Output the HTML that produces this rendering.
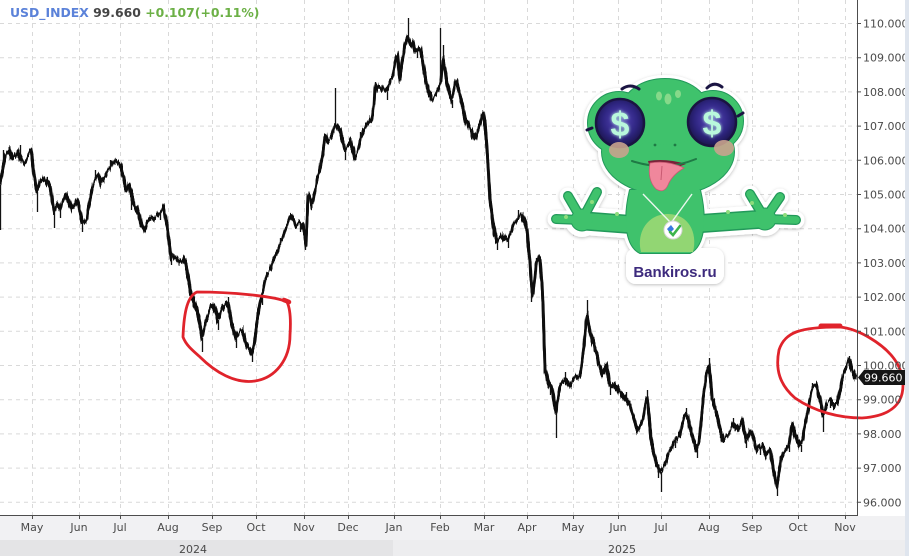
<!DOCTYPE html>
<html>
<head>
<meta charset="utf-8">
<style>
html,body{margin:0;padding:0;background:#fff;}
svg{display:block;}
.ax{font-family:"DejaVu Sans","Liberation Sans",sans-serif;font-size:11px;fill:#4a4a4a;}
</style>
</head>
<body>
<svg width="909" height="556" viewBox="0 0 909 556" xmlns="http://www.w3.org/2000/svg">
<defs>
  <radialGradient id="eyeg" cx="0.5" cy="0.45" r="0.6">
    <stop offset="0" stop-color="#5a48c0"/>
    <stop offset="0.6" stop-color="#2e2580"/>
    <stop offset="1" stop-color="#161140"/>
  </radialGradient>
  <filter id="sh" x="-10%" y="-10%" width="120%" height="120%">
    <feDropShadow dx="0" dy="1" stdDeviation="1.5" flood-color="#000" flood-opacity="0.25"/>
  </filter>
  <filter id="glow" x="-50%" y="-50%" width="200%" height="200%">
    <feGaussianBlur stdDeviation="1.6" result="b"/>
    <feMerge><feMergeNode in="b"/><feMergeNode in="SourceGraphic"/></feMerge>
  </filter>
  <filter id="jag" filterUnits="userSpaceOnUse" x="-5" y="0" width="870" height="520">
    <feTurbulence type="fractalNoise" baseFrequency="0.55 0.06" numOctaves="2" seed="4" result="t"/>
    <feColorMatrix in="t" type="matrix" values="1 0 0 0 0  0 0 0 0 0.5  0 0 0 0 0  0 0 0 0 1" result="m"/>
    <feDisplacementMap in="SourceGraphic" in2="m" scale="11" xChannelSelector="G" yChannelSelector="R"/>
  </filter>
  <polyline id="pl" fill="none" stroke-linejoin="round" points="0,185 3,168 6,155 9,150 13,158 17,152 21,160 25,162 28,155 31,150 34,175 37,192 40,182 43,178 47,182 50,186 54,212 57,205 60,208 63,200 66,195 69,203 72,210 75,204 77,200 80,212 82,222 85,222 87,218 90,200 92,188 95,180 98,175 101,183 103,180 107,172 110,168 113,163 116,160 119,163 121,168 124,180 126,190 129,185 131,194 134,204 137,210 139,215 141,222 143,228 145,230 148,222 150,218 154,218 157,216 160,212 163,208 165,215 167,226 169,242 171,256 174,258 176,258 180,262 183,258 186,265 188,276 190,290 193,300 197,310 200,325 202,338 205,325 208,315 211,305 213,305 216,312 218,320 221,312 223,308 226,303 228,305 230,315 232,325 234,332 236,338 239,332 242,330 245,340 247,345 250,350 252,354 254,345 255,338 257,322 258,315 260,303 262,295 264,285 265,280 268,273 270,270 273,262 275,258 278,250 280,245 283,238 285,230 288,222 290,216 293,220 296,225 300,223 303,228 305,235 306,245 308,195 310,198 312,205 315,192 317,180 320,168 322,158 324,145 325,135 328,140 330,140 333,132 335,125 338,128 340,130 343,142 345,150 348,145 350,140 353,150 355,158 358,150 360,140 363,132 366,125 369,122 372,118 374,105 375,85 378,88 380,88 384,90 387,92 390,82 393,75 395,62 397,55 399,70 400,80 402,62 404,50 406,42 408,36 410,42 413,45 415,52 417,50 420,48 422,58 424,70 426,82 428,90 430,95 432,100 435,95 437,93 439,88 441,80 443,60 445,70 447,85 450,95 452,100 454,88 456,80 458,88 460,95 463,110 465,120 468,125 471,130 473,136 475,140 478,130 480,125 482,116 483,113 485,125 486,135 488,165 489,185 490,200 492,215 493,225 495,235 497,240 500,238 502,235 505,238 508,240 511,232 513,225 516,220 518,218 521,215 523,218 525,222 527,230 528,245 530,262 531,280 533,296 535,275 536,266 538,258 540,262 542,285 543,305 544,340 545,370 547,378 548,382 550,385 552,390 554,402 556,412 558,398 560,385 563,382 565,380 568,384 570,385 573,380 575,375 578,378 580,375 582,362 584,345 586,322 587,315 589,325 590,332 592,340 594,345 596,352 598,360 600,368 602,375 604,370 606,365 608,375 610,385 614,385 618,390 622,395 626,400 630,405 632,412 634,420 636,428 638,430 641,425 643,420 645,405 647,398 649,415 650,430 652,445 654,455 656,462 658,468 661,472 663,468 665,465 668,455 670,450 673,445 675,440 678,438 680,435 682,425 684,416 686,415 688,418 690,428 693,440 695,446 697,450 699,442 700,432 702,412 703,400 705,385 706,376 708,368 709,366 711,385 712,398 714,405 716,410 718,420 720,430 722,436 724,440 726,438 728,435 731,430 733,425 736,428 738,430 740,425 742,420 744,430 746,440 748,436 750,430 752,435 754,440 756,448 757,450 760,447 762,445 764,450 766,455 768,452 770,450 772,462 774,475 776,482 777,486 779,472 781,460 783,455 785,450 787,448 789,445 791,430 792,425 794,432 797,440 799,444 801,445 803,438 804,430 806,420 808,410 810,398 812,390 814,386 816,385 818,392 820,400 822,410 823,415 825,410 826,405 828,402 830,400 832,403 835,405 837,403 838,400 840,390 842,380 844,374 846,368 848,362 849,360 851,366 852,370 854,375 855,378 857,377"/>
</defs>

<!-- backgrounds -->
<rect x="0" y="0" width="909" height="556" fill="#ffffff"/>
<rect x="0" y="516" width="909" height="24" fill="#f1f1f3"/>
<rect x="0" y="540" width="393" height="16" fill="#e4e4e6"/>
<rect x="393" y="540" width="516" height="16" fill="#ededef"/>

<!-- grid -->
<g stroke="#d9d9d9" stroke-width="1" stroke-dasharray="4,4" fill="none">
  <path d="M0 23.5H857M0 57.7H857M0 91.9H857M0 126.1H857M0 160.3H857M0 194.5H857M0 228.7H857M0 262.9H857M0 297.1H857M0 331.3H857M0 365.5H857M0 399.7H857M0 433.9H857M0 468.1H857M0 502.3H857"/>
  <path d="M32.5 0V515M79.5 0V515M120.5 0V515M168.5 0V515M212.5 0V515M256.5 0V515M304.5 0V515M348.5 0V515M394.5 0V515M440.5 0V515M484.5 0V515M527.5 0V515M573.5 0V515M618.5 0V515M661.5 0V515M709.5 0V515M752.5 0V515M798.5 0V515M845.5 0V515"/>
</g>

<!-- price series -->
<g stroke="#111" filter="url(#jag)">
  <use href="#pl" stroke-width="2.8"/>
  <use href="#pl" stroke-width="1.4" transform="translate(0.8,-1.8)"/>
  <use href="#pl" stroke-width="1.4" transform="translate(-0.6,1.8)"/>
</g>
<path stroke="#111" stroke-width="1.3" fill="none" d="M0.5 185V230M3.5 168V150M37.5 192V212M54.5 212V228M82.5 222V232M131.5 194V210M171.5 256V265M202.5 338V352M236.5 338V348M252.5 354V362M300.5 223V232M305.5 235V250M335.5 125V88M375.5 85V82M408.5 36V18M440.5 84V28M443.5 60V45M497.5 240V250M531.5 280V302M543.5 305V325M556.5 412V438M587.5 315V300M661.5 472V492M709.5 366V358M777.5 486V496M823.5 415V432M849.5 360V356
M20.5 158V145M60.5 208V218M95.5 180V170M110.5 168V160M160.5 212V220M186.5 265V275M218.5 320V330M228.5 305V297M262.5 295V305M280.5 245V238M320.5 168V160M345.5 150V160M360.5 140V132M387.5 92V100M417.5 50V58M424.5 70V78M452.5 100V108M471.5 130V138M508.5 240V248M518.5 218V210M536.5 266V258M550.5 385V395M565.5 380V372M594.5 345V352M610.5 385V395M626.5 400V392M647.5 398V390M658.5 468V478M675.5 440V448M686.5 415V408M697.5 450V458M720.5 430V438M733.5 425V418M746.5 440V448M760.5 447V455M789.5 445V452M801.5 445V452M812.5 390V383M830.5 400V408"/>

<!-- mascot -->
<g id="mascot">
  <g filter="url(#sh)">
    <g stroke="#ffffff" fill="#ffffff" stroke-linecap="round" stroke-linejoin="round">
      <path d="M638 225 L585 221" stroke-width="28"/>
      <path d="M582 220 L556 219 M582 220 L568 196 M582 220 L597 192" stroke-width="17"/>
      <circle cx="582" cy="220" r="15" stroke-width="4"/>
      <path d="M694 224 L765 219" stroke-width="28"/>
      <path d="M765 219 L796 220 M765 219 L780 197 M765 219 L750 194" stroke-width="17"/>
      <circle cx="765" cy="219" r="15" stroke-width="4"/>
      <path d="M630 190 C624 215 624 245 640 253 L690 253 C706 245 706 215 700 190 Z" stroke-width="8"/>
      <ellipse cx="668" cy="152" rx="66" ry="43" stroke-width="8"/>
      <ellipse cx="665" cy="112" rx="44" ry="33" stroke-width="8"/>
      <circle cx="619" cy="123" r="31" stroke-width="8"/>
      <circle cx="713" cy="121" r="30" stroke-width="8"/>
      <rect x="628" y="250" width="94" height="32" rx="8" stroke-width="4"/>
    </g>
  </g>
  <g stroke="#22995a" fill="#22995a" stroke-linecap="round" stroke-linejoin="round">
    <path d="M638 225 L585 221" stroke-width="19"/>
    <path d="M582 220 L556 219 M582 220 L568 196 M582 220 L597 192" stroke-width="10"/>
    <circle cx="582" cy="220" r="11"/>
    <path d="M694 224 L765 219" stroke-width="19"/>
    <path d="M765 219 L796 220 M765 219 L780 197 M765 219 L750 194" stroke-width="10"/>
    <circle cx="765" cy="219" r="11"/>
    <path d="M630 190 C624 215 624 245 640 253 L690 253 C706 245 706 215 700 190 Z" stroke-width="2"/>
    <ellipse cx="668" cy="152" rx="66" ry="43" stroke-width="2"/>
    <ellipse cx="665" cy="112" rx="44" ry="33" stroke-width="2"/>
    <circle cx="619" cy="123" r="31" stroke-width="2"/>
    <circle cx="713" cy="121" r="30" stroke-width="2"/>
  </g>
  <g stroke="#3fc26c" fill="#3fc26c" stroke-linecap="round" stroke-linejoin="round">
    <path d="M638 225 L585 221" stroke-width="16"/>
    <path d="M582 220 L556 219 M582 220 L568 196 M582 220 L597 192" stroke-width="7.5"/>
    <circle cx="582" cy="220" r="10"/>
    <path d="M694 224 L765 219" stroke-width="16"/>
    <path d="M765 219 L796 220 M765 219 L780 197 M765 219 L750 194" stroke-width="7.5"/>
    <circle cx="765" cy="219" r="10"/>
  </g>
  <g fill="#3fc26c">
    <path d="M630 190 C624 215 624 245 640 253 L690 253 C706 245 706 215 700 190 Z"/>
    <ellipse cx="668" cy="152" rx="66" ry="43"/>
    <ellipse cx="665" cy="112" rx="44" ry="33"/>
    <circle cx="619" cy="123" r="31"/>
    <circle cx="713" cy="121" r="30"/>
  </g>
  <g fill="#8fdc7c">
    <circle cx="566" cy="217" r="2"/><circle cx="592" cy="202" r="2"/><circle cx="617" cy="214" r="2"/>
    <circle cx="785" cy="215" r="2"/><circle cx="752" cy="203" r="2"/><circle cx="728" cy="212" r="2"/>
  </g>
  <path d="M641 252 C636 232 648 214 668 214 C688 214 698 232 693 252 Z" fill="#92d673"/>
  <ellipse cx="659" cy="96" rx="3" ry="4.5" fill="#86d98a"/>
  <ellipse cx="668" cy="99" rx="3.5" ry="5.5" fill="#86d98a"/>
  <ellipse cx="678" cy="94" rx="3" ry="4" fill="#86d98a"/>
  <circle cx="620" cy="123" r="24" fill="url(#eyeg)" stroke="#1a1442" stroke-width="2.5"/>
  <circle cx="712" cy="122" r="24" fill="url(#eyeg)" stroke="#1a1442" stroke-width="2.5"/>
  <g filter="url(#glow)" font-family="Liberation Sans, sans-serif" font-weight="bold" font-size="34" fill="#b9f8dc" text-anchor="middle">
    <text x="620" y="136">$</text>
    <text x="712" y="135">$</text>
  </g>
  <g stroke="#1a1442" stroke-width="3" fill="none" stroke-linecap="round">
    <path d="M622 89 Q630 83 639 89"/>
    <path d="M707 88 Q714 81 722 87"/>
    <path d="M587 130 L592 128"/>
    <path d="M738 116 L743 113"/>
  </g>
  <ellipse cx="619" cy="150" rx="10" ry="8" fill="#c9a38e" opacity="0.9"/>
  <ellipse cx="724" cy="148" rx="10" ry="8" fill="#c9a38e" opacity="0.9"/>
  <circle cx="655" cy="145" r="1.4" fill="#1f7a45"/>
  <circle cx="675" cy="145" r="1.4" fill="#1f7a45"/>
  <path d="M648 161 Q666 158 686 164 Q670 171 650 168 Z" fill="#7a2038"/>
  <path d="M632 161 Q665 172 696 159" stroke="#1f7a45" stroke-width="2" fill="none" stroke-linecap="round"/>
  <path d="M650 163 Q647 180 656 189 Q664 194 668 185 Q672 175 684 168 Q668 160 650 163 Z" fill="#f0879c" stroke="#c85a72" stroke-width="0.8"/>
  <path d="M662 166 L661 180" stroke="#c85a72" stroke-width="1"/>
  <path d="M643 194 L671 223 L692 194" stroke="#eaf7ee" stroke-width="1.4" fill="none"/>
  <circle cx="673" cy="230" r="9" fill="#ffffff" stroke="#d6d6d6" stroke-width="1"/>
  <path d="M667 229 L671 225 L674 229 L670 233 Z" fill="#3a7be0"/>
  <path d="M670 232 L673 235 L680 226" stroke="#3cb44b" stroke-width="2.6" fill="none" stroke-linecap="round"/>
  <text x="675" y="277" text-anchor="middle" font-family="Liberation Sans, sans-serif" font-weight="bold" font-size="15" fill="#3d2a7d">Bankiros.ru</text>
</g>

<!-- red circles -->
<g stroke="#e0232b" stroke-width="2.8" fill="none" stroke-linecap="round" stroke-linejoin="round">
  <path d="M287 302 C275 296 230 292 197 292 C188 296 184 310 183 337 C186 345 192 350 200 357 C215 372 235 384 255 381 C275 378 290 360 290 335 C291 320 290 308 287 302"/>
  <path d="M284 300 L289 302" stroke-width="4.5"/>
  <path d="M840 327 C800 327 785 332 779 350 C775 370 780 385 795 398 C815 412 840 418 862 418 C890 416 903 405 903 385 C903 365 890 350 870 338 C860 332 850 328 840 327"/>
  <path d="M821 326 L840 326" stroke-width="5"/>
</g>

<!-- axes -->
<g stroke="#4d4d4d" stroke-width="1" fill="none">
  <path d="M857.5 0V515.5M0 515.5H858"/>
  <path d="M857 23.5H861M857 57.7H861M857 91.9H861M857 126.1H861M857 160.3H861M857 194.5H861M857 228.7H861M857 262.9H861M857 297.1H861M857 331.3H861M857 365.5H861M857 399.7H861M857 433.9H861M857 468.1H861M857 502.3H861"/>
  <path d="M32.5 515V519M79.5 515V519M120.5 515V519M168.5 515V519M212.5 515V519M256.5 515V519M304.5 515V519M348.5 515V519M394.5 515V519M440.5 515V519M484.5 515V519M527.5 515V519M573.5 515V519M618.5 515V519M661.5 515V519M709.5 515V519M752.5 515V519M798.5 515V519M845.5 515V519"/>
</g>
<g class="ax">
  <text x="863" y="27.5">110.000</text>
  <text x="863" y="61.7">109.000</text>
  <text x="863" y="95.9">108.000</text>
  <text x="863" y="130.1">107.000</text>
  <text x="863" y="164.3">106.000</text>
  <text x="863" y="198.5">105.000</text>
  <text x="863" y="232.7">104.000</text>
  <text x="863" y="266.9">103.000</text>
  <text x="863" y="301.1">102.000</text>
  <text x="863" y="335.3">101.000</text>
  <text x="863" y="369.5">100.000</text>
  <text x="863" y="403.7">99.000</text>
  <text x="863" y="437.9">98.000</text>
  <text x="863" y="472.1">97.000</text>
  <text x="863" y="506.3">96.000</text>
</g>
<g class="ax" text-anchor="middle">
  <text x="32" y="531">May</text>
  <text x="79" y="531">Jun</text>
  <text x="120" y="531">Jul</text>
  <text x="168" y="531">Aug</text>
  <text x="212" y="531">Sep</text>
  <text x="256" y="531">Oct</text>
  <text x="304" y="531">Nov</text>
  <text x="348" y="531">Dec</text>
  <text x="394" y="531">Jan</text>
  <text x="440" y="531">Feb</text>
  <text x="484" y="531">Mar</text>
  <text x="527" y="531">Apr</text>
  <text x="573" y="531">May</text>
  <text x="618" y="531">Jun</text>
  <text x="661" y="531">Jul</text>
  <text x="709" y="531">Aug</text>
  <text x="752" y="531">Sep</text>
  <text x="798" y="531">Oct</text>
  <text x="845" y="531">Nov</text>
  <text x="193" y="553">2024</text>
  <text x="622" y="553">2025</text>
</g>

<!-- price tag -->
<path d="M858 377.5 L864 370 L905 370 L905 385 L864 385 Z" fill="#151515"/>
<text x="864" y="381.5" font-family="DejaVu Sans, Liberation Sans, sans-serif" font-size="11" fill="#ffffff">99.660</text>

<!-- right strip -->
<rect x="905" y="0" width="4" height="556" fill="#dfe5ee"/>

<!-- header -->
<text x="10" y="17" font-family="DejaVu Sans, Liberation Sans, sans-serif" font-weight="bold" font-size="12.4"><tspan fill="#5b82d9">USD_INDEX</tspan><tspan fill="#454545"> 99.660</tspan><tspan fill="#6cb046"> +0.107(+0.11%)</tspan></text>
</svg>
</body>
</html>
